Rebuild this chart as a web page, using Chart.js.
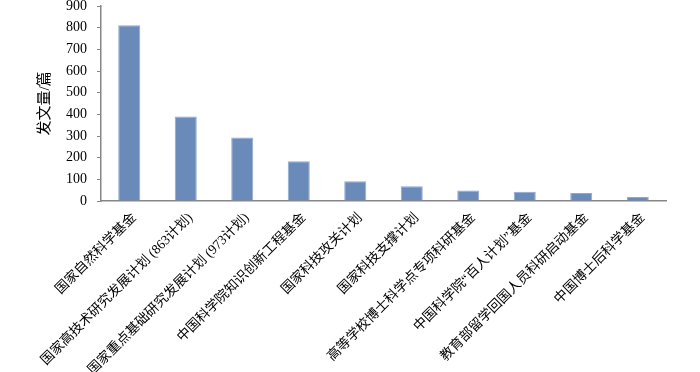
<!DOCTYPE html>
<html lang="zh">
<head>
<meta charset="UTF-8">
<title>发文量</title>
<script src="https://cdn.jsdelivr.net/npm/chart.js"></script>
<style>
    html, body { margin: 0; padding: 0; background: #ffffff; }
    .wrap { width: 700px; height: 372px; position: relative; }
</style>
</head>
<body>
<div class="wrap"><canvas id="fundChart"></canvas></div>
<script>
    // 基金类别与发文量
    const categories = [
        '国家自然科学基金',
        '国家高技术研究发展计划 (863计划)',
        '国家重点基础研究发展计划 (973计划)',
        '中国科学院知识创新工程基金',
        '国家科技攻关计划',
        '国家科技支撑计划',
        '高等学校博士科学点专项科研基金',
        '中国科学院“百人计划”基金',
        '教育部留学回国人员科研启动基金',
        '中国博士后科学基金'
    ];
    const paperCounts = [811, 390, 293, 184, 91, 68, 48, 43, 37, 18];
    const yTicks = [0, 100, 200, 300, 400, 500, 600, 700, 800, 900];

    const fontFamily = '"Liberation Serif", "Times New Roman", "Noto Sans CJK SC", serif';
    const axisColor = '#868686';

    new Chart(document.getElementById('fundChart'), {
        type: 'bar',
        data: {
            labels: categories,
            datasets: [{
                label: '发文量/篇',
                data: paperCounts,
                backgroundColor: '#6a8bba',
                borderColor: '#8fa9cf',
                borderWidth: 1,
                barPercentage: 0.39,
                categoryPercentage: 1.0
            }]
        },
        options: {
            responsive: true,
            maintainAspectRatio: false,
            animation: false,
            layout: { padding: { top: 6, right: 34, left: 32, bottom: 0 } },
            plugins: {
                legend: { display: false },
                tooltip: { enabled: false }
            },
            scales: {
                x: {
                    afterFit: axis => { axis.height = 171; },
                    grid: { display: false },
                    border: { display: true, color: axisColor, width: 1.5 },
                    ticks: {
                        autoSkip: false,
                        maxRotation: 45,
                        minRotation: 45,
                        padding: 1,
                        labelOffset: 5,
                        color: '#000000',
                        font: { family: fontFamily, size: 13.5 }
                    }
                },
                y: {
                    min: 0,
                    max: 900,
                    afterBuildTicks: axis => { axis.ticks = yTicks.map(v => ({ value: v })); },
                    // 900 刻度贴近顶部
                    afterFit: axis => { axis.paddingTop = 6; },
                    grid: {
                        drawOnChartArea: false,
                        drawTicks: true,
                        tickLength: 4,
                        color: axisColor
                    },
                    border: { display: true, color: axisColor, width: 1.5 },
                    ticks: {
                        color: '#000000',
                        padding: 10,
                        font: { family: fontFamily, size: 14 }
                    },
                    title: {
                        display: true,
                        text: '发文量/篇',
                        color: '#000000',
                        padding: { bottom: 2 },
                        font: { family: fontFamily, size: 15 }
                    }
                }
            }
        }
    });
</script>
</body>
</html>
